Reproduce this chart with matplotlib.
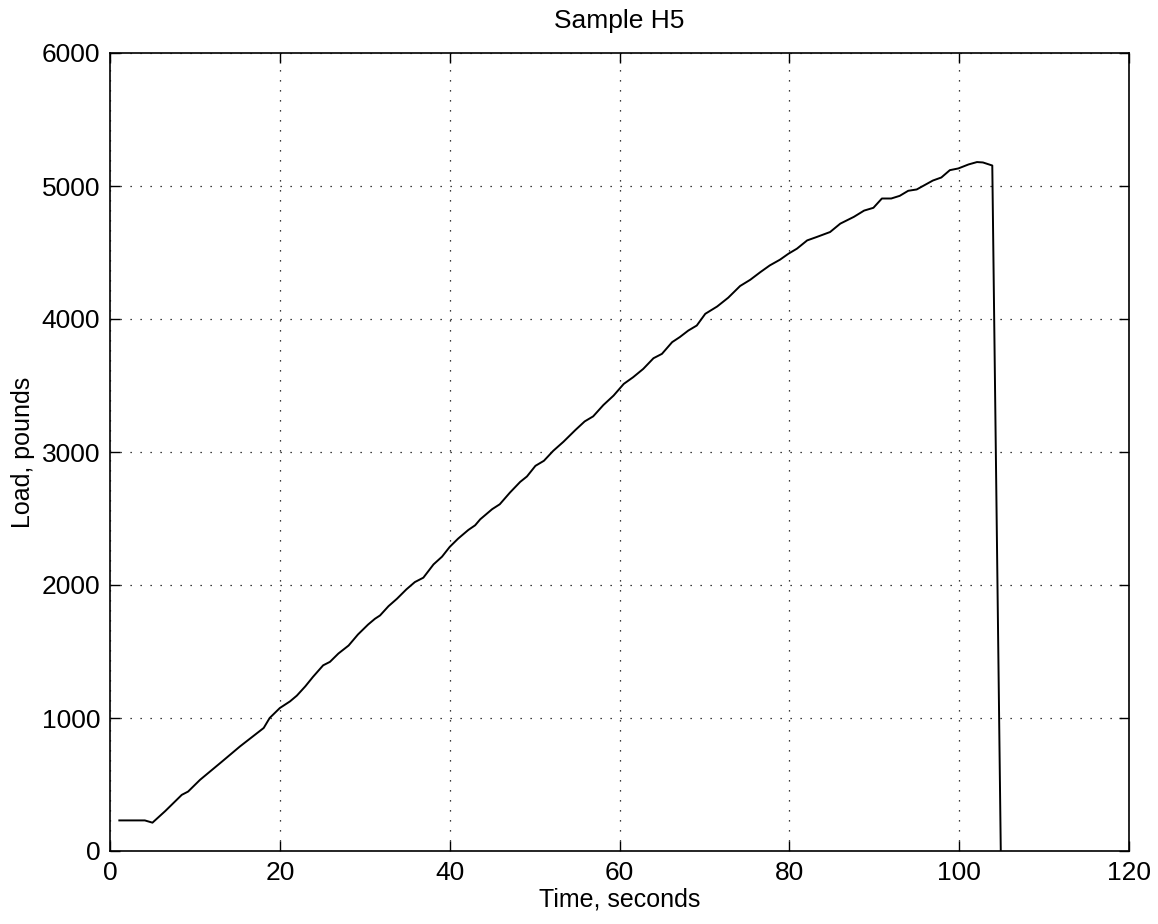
import matplotlib
matplotlib.use("Agg")
import matplotlib.pyplot as plt

# Data
time_s = [1.1, 4.1, 5.0, 6.5, 8.45, 9.2, 10.6, 13.2, 15.3, 18.1, 18.8, 20.0, 21.2, 22.0,
          23.0, 23.9, 25.1, 25.9, 26.9, 28.1, 29.2, 30.4, 31.2, 31.8, 32.8, 33.8,
          34.9, 35.9, 36.9, 38.1, 39.1, 40.0, 41.0, 42.2, 43.0, 43.6, 45.0, 45.9,
          47.1, 48.3, 49.1, 50.1, 51.1, 52.2, 53.4, 54.8, 55.9, 56.9, 58.1, 59.3,
          60.5, 61.6, 62.8, 64.0, 65.0, 66.2, 67.1, 68.1, 69.1, 70.1, 71.5, 72.8,
          74.2, 75.4, 76.6, 77.7, 78.9, 79.9, 80.9, 82.1, 83.2, 84.8, 86.0, 87.6,
          88.8, 89.9, 90.9, 92.0, 93.0, 94.0, 95.0, 96.9, 97.9, 98.9, 99.9, 101.1,
          102.1, 102.8, 103.9, 104.9]
load_lb = [230, 230, 213, 300, 422, 447, 535, 673, 786, 925, 1000, 1075, 1125, 1168,
           1238, 1309, 1396, 1422, 1485, 1545, 1628, 1703, 1746, 1771, 1841, 1897,
           1967, 2022, 2055, 2155, 2213, 2286, 2349, 2414, 2449, 2494, 2570, 2607,
           2695, 2775, 2816, 2896, 2934, 3009, 3077, 3165, 3230, 3268, 3353, 3424,
           3512, 3562, 3625, 3705, 3738, 3826, 3864, 3913, 3951, 4039, 4094, 4160,
           4248, 4295, 4353, 4403, 4446, 4491, 4529, 4591, 4616, 4654, 4717, 4768,
           4815, 4836, 4906, 4906, 4926, 4964, 4974, 5041, 5064, 5119, 5132, 5162,
           5180, 5177, 5154, 0]

x_ticks = [0, 20, 40, 60, 80, 100, 120]
y_ticks = [0, 1000, 2000, 3000, 4000, 5000, 6000]

plt.rcParams['font.family'] = ['Liberation Sans', 'DejaVu Sans']

fig = plt.figure(figsize=(11.58, 9.24), dpi=100)
ax = fig.add_axes([110/1158, 73/924, (1129-110)/1158, (851-53)/924])

ax.plot(time_s, load_lb, color='black', linewidth=1.4)

ax.set_xlim(0, 120)
ax.set_ylim(0, 6000)
ax.set_xticks(x_ticks)
ax.set_yticks(y_ticks)
ax.tick_params(direction='in', length=7, width=1, top=True, right=True,
               labelsize=19, pad=7, colors='black')
ax.grid(True, linestyle=(0, (1, 7)), color='black', linewidth=0.9)
for s in ax.spines.values():
    s.set_linewidth(1.2)
    s.set_color('black')

ax.set_title('Sample H5', fontsize=19, pad=18)
ax.set_xlabel('Time, seconds', fontsize=18, labelpad=2)
ax.set_ylabel('Load, pounds', fontsize=18, labelpad=5)

fig.savefig('out.png', dpi=100, facecolor='white')
